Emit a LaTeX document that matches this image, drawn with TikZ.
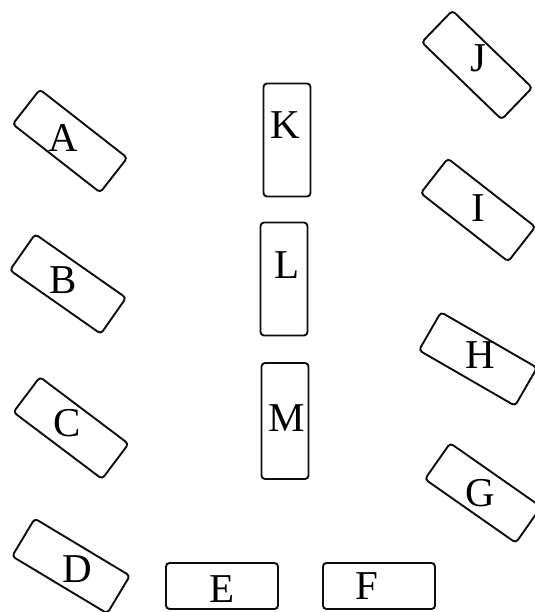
\documentclass[tikz,border=0pt]{standalone}
\usepackage{fontspec}
\setmainfont{Liberation Serif}
\usetikzlibrary{calc}
\definecolor{seatline}{gray}{0.05}
\tikzset{seat/.style={draw=seatline,line width=1.9bp,rounded corners=3.5bp,minimum width=111bp,minimum height=44bp,inner sep=0pt},
         tallseat/.style={seat,minimum width=47bp,minimum height=113bp},
         tag/.style={inner sep=0pt,font=\fontsize{41bp}{41bp}\selectfont}}

\begin{document}
\begin{tikzpicture}[x=1bp,y=-1bp]
  \useasboundingbox (0,0) rectangle (535,612);
  \node[seat,rotate=-38] (boxA) at (70,141) {};
  \node[tag] (tagA) at ([shift={(-7,-3)}]boxA.center) {A};
  \node[seat,rotate=-35] (boxB) at (68,284) {};
  \node[tag] (tagB) at ([shift={(-5,-4)}]boxB.center) {B};
  \node[seat,rotate=-37] (boxC) at (71,428) {};
  \node[tag] (tagC) at ([shift={(-4,-5)}]boxC.center) {C};
  \node[seat,rotate=-31] (boxD) at (71,566) {};
  \node[tag] (tagD) at ([shift={(6,3)}]boxD.center) {D};
  \node[seat,minimum width=112bp,minimum height=46bp] (boxE) at (222,586) {};
  \node[tag] (tagE) at ([shift={(0,3)}]boxE.center) {E};
  \node[seat,minimum width=112bp,minimum height=46bp] (boxF) at (379,586) {};
  \node[tag] (tagF) at ([shift={(-12,0)}]boxF.center) {F};
  \node[seat,rotate=-35] (boxG) at (483,493) {};
  \node[tag] (tagG) at ([shift={(-3,0)}]boxG.center) {G};
  \node[seat,rotate=-30] (boxH) at (478,359) {};
  \node[tag] (tagH) at ([shift={(2,-4)}]boxH.center) {H};
  \node[seat,rotate=-38] (boxI) at (478,210) {};
  \node[tag] (tagI) at ([shift={(0,-2)}]boxI.center) {I};
  \node[seat,rotate=-44] (boxJ) at (477,65) {};
  \node[tag] (tagJ) at ([shift={(1,-7)}]boxJ.center) {J};
  \node[tallseat] (boxK) at (287,140) {};
  \node[tag] (tagK) at ([shift={(-2,-15)}]boxK.center) {K};
  \node[tallseat] (boxL) at (284,279) {};
  \node[tag] (tagL) at ([shift={(3,-14)}]boxL.center) {L};
  \node[tallseat,minimum height=116bp] (boxM) at (285,421) {};
  \node[tag] (tagM) at ([shift={(2,-3)}]boxM.center) {M};
\end{tikzpicture}
\end{document}
